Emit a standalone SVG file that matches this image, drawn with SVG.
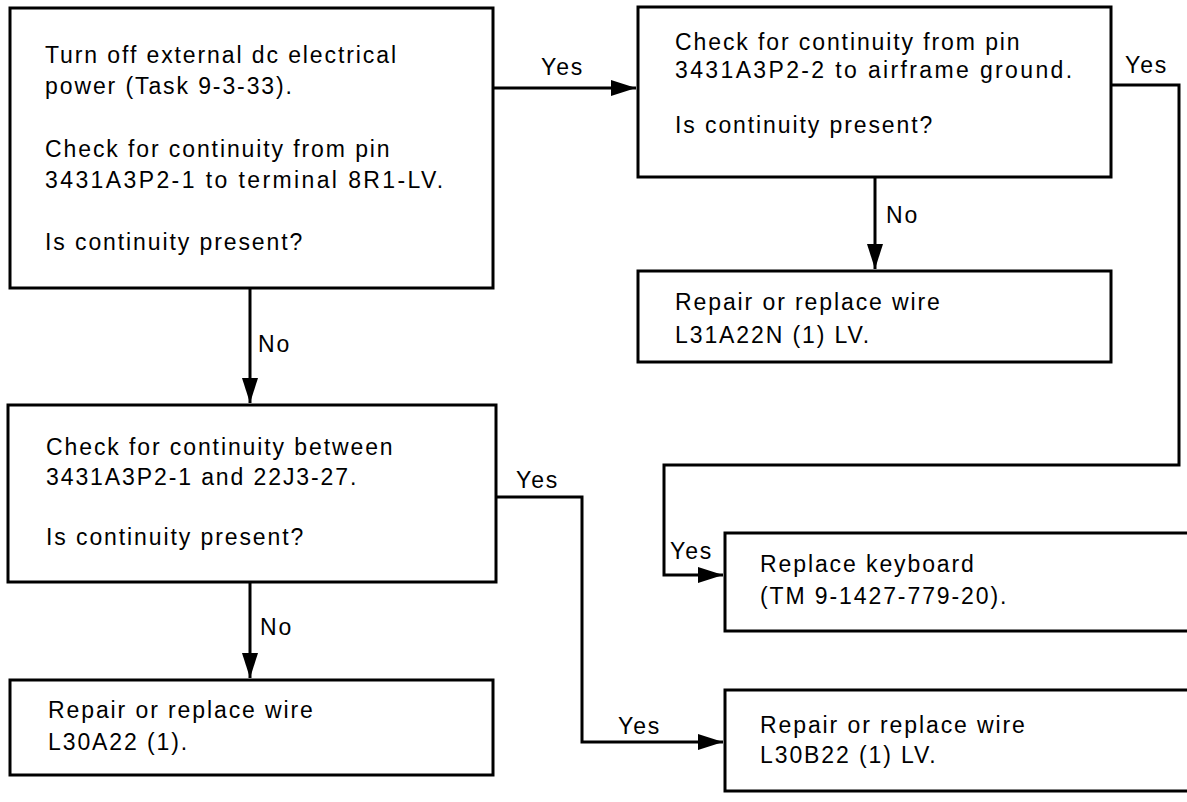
<svg xmlns="http://www.w3.org/2000/svg" width="1187" height="802" viewBox="0 0 1187 802">
<style>
.box{fill:#fff;stroke:#000;stroke-width:3}
.t{font-family:"Liberation Sans",Arial,sans-serif;font-size:23px;letter-spacing:1.9px;fill:#000}
.c{fill:none;stroke:#000;stroke-width:3}
</style>
<defs>
<marker id="ah" markerUnits="userSpaceOnUse" markerWidth="26" markerHeight="18" refX="25" refY="8" orient="auto">
<path d="M0,0 L25,8 L0,16 z" fill="#000"/>
</marker>
</defs>
<rect width="1187" height="802" fill="#fff"/>
<g id="connectors">
<path class="c" d="M493,88 H636" marker-end="url(#ah)"/>
<path class="c" d="M250,288 V403" marker-end="url(#ah)"/>
<path class="c" d="M875,177 V269" marker-end="url(#ah)"/>
<path class="c" d="M1111,85 H1179 V465 H664 V575 H723" marker-end="url(#ah)"/>
<path class="c" d="M496,497 H582 V742 H723" marker-end="url(#ah)"/>
<path class="c" d="M250,582 V678" marker-end="url(#ah)"/>
<text class="t" x="541" y="75">Yes</text>
<text class="t" x="1125" y="73">Yes</text>
<text class="t" x="258" y="352">No</text>
<text class="t" x="886" y="223">No</text>
<text class="t" x="670" y="559">Yes</text>
<text class="t" x="516" y="488">Yes</text>
<text class="t" x="618" y="734">Yes</text>
<text class="t" x="260" y="635">No</text>
</g>
<g id="n1">
<rect class="box" x="10" y="8" width="483" height="280"/>
<text class="t" x="45" y="63">Turn off external dc electrical</text>
<text class="t" x="45" y="94">power (Task 9-3-33).</text>
<text class="t" x="45" y="157">Check for continuity from pin</text>
<text class="t" x="45" y="188" textLength="400">3431A3P2-1 to terminal 8R1-LV.</text>
<text class="t" x="45" y="250">Is continuity present?</text>
</g>
<g id="n2">
<rect class="box" x="638" y="7" width="473" height="170"/>
<text class="t" x="675" y="50">Check for continuity from pin</text>
<text class="t" x="675" y="78" textLength="399">3431A3P2-2 to airframe ground.</text>
<text class="t" x="675" y="133">Is continuity present?</text>
</g>
<g id="n3">
<rect class="box" x="638" y="271" width="473" height="91"/>
<text class="t" x="675" y="310">Repair or replace wire</text>
<text class="t" x="675" y="343">L31A22N (1) LV.</text>
</g>
<g id="n4">
<rect class="box" x="8" y="405" width="488" height="177"/>
<text class="t" x="46" y="455">Check for continuity between</text>
<text class="t" x="46" y="485">3431A3P2-1 and 22J3-27.</text>
<text class="t" x="46" y="545">Is continuity present?</text>
</g>
<g id="n5">
<rect class="box" x="10" y="680" width="483" height="95"/>
<text class="t" x="48" y="718">Repair or replace wire</text>
<text class="t" x="48" y="750">L30A22 (1).</text>
</g>
<g id="n6">
<rect class="box" x="725" y="533" width="500" height="98"/>
<text class="t" x="760" y="572">Replace keyboard</text>
<text class="t" x="760" y="604">(TM 9-1427-779-20).</text>
</g>
<g id="n7">
<rect class="box" x="725" y="690" width="500" height="101"/>
<text class="t" x="760" y="733">Repair or replace wire</text>
<text class="t" x="760" y="763">L30B22 (1) LV.</text>
</g>
</svg>
